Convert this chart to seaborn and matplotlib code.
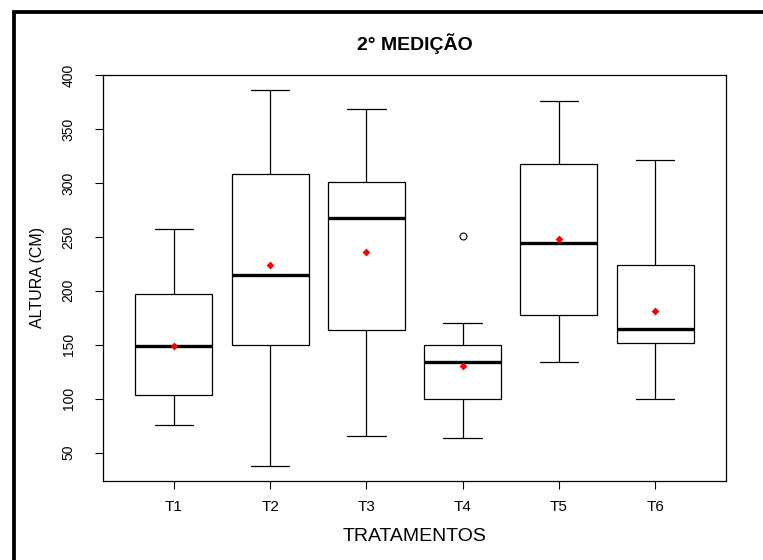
import matplotlib
matplotlib.use("Agg")
import matplotlib.pyplot as plt
from matplotlib.patches import Rectangle
import seaborn as sns
import pandas as pd
import numpy as np

# ---- data ----
tratamentos = ["T1", "T2", "T3", "T4", "T5", "T6"]
minimos  = [75.9, 37.6, 65.2, 63.3, 134.1, 100.1]
q1       = [103.2, 150.2, 163.2, 100.1, 177.5, 151.5]
medianas = [148.7, 214.3, 267.2, 134.1, 244.6, 164.5]
q3       = [197.0, 308.4, 301.3, 149.9, 317.3, 223.9]
maximos  = [257.3, 386.4, 369.0, 170.1, 375.8, 321.4]
outliers = {"T4": [250.5]}
medias   = [149.0, 223.6, 236.4, 130.4, 248.3, 181.2]
yticks   = [50, 100, 150, 200, 250, 300, 350, 400]

# build samples whose quartiles equal the five-number summaries
rows = []
for i, t in enumerate(tratamentos):
    extra = outliers.get(t, [])
    if extra:
        vals = [minimos[i], q1[i], q1[i], medianas[i], medianas[i],
                q3[i], q3[i], maximos[i]] + extra
    else:
        vals = [minimos[i], q1[i], medianas[i], q3[i], maximos[i]]
    rows += [(t, v) for v in vals]
df = pd.DataFrame(rows, columns=["trat", "altura"])
df_mean = pd.DataFrame({"trat": tratamentos, "media": medias})

sns.set_style("ticks")
plt.rcParams["font.family"] = ["Liberation Sans", "DejaVu Sans"]
plt.rcParams["text.color"] = "black"
plt.rcParams["axes.labelcolor"] = "black"
plt.rcParams["xtick.color"] = "black"
plt.rcParams["ytick.color"] = "black"

fig = plt.figure(figsize=(7.63, 5.60), dpi=100)
ax = fig.add_axes([102.7 / 763, 1 - 481 / 560, (726.3 - 102.7) / 763, (481 - 74.7) / 560])

sns.boxplot(data=df, x="trat", y="altura", order=tratamentos, ax=ax,
            color="white", linecolor="black", linewidth=0.9, width=0.8,
            saturation=1, whis=1.5,
            medianprops=dict(linewidth=2.4, color="black"),
            flierprops=dict(marker="o", markersize=5, markerfacecolor="none",
                            markeredgecolor="black", markeredgewidth=0.8))
sns.stripplot(data=df_mean, x="trat", y="media", order=tratamentos, ax=ax,
              jitter=False, marker="D", color="red", size=4, linewidth=0,
              zorder=5)

lo = min(minimos); hi = max(maximos); rng = hi - lo
ax.set_ylim(lo - 0.04 * rng, hi + 0.04 * rng)
ax.set_xlim(-0.74, 5.74)
ax.set_yticks(yticks)

for s in ax.spines.values():
    s.set_visible(True)
    s.set_color("black")
    s.set_linewidth(0.9)

ax.tick_params(axis="both", length=5.5, width=0.8, color="black",
               labelcolor="black", direction="out")
ax.tick_params(axis="x", labelsize=11, pad=8)
ax.tick_params(axis="y", labelsize=10, pad=14, labelrotation=90)
for lab in ax.get_yticklabels():
    lab.set_va("center")

ax.set_xlabel("TRATAMENTOS", fontsize=14, color="black")
ax.xaxis.label.set_va("center")
ax.xaxis.set_label_coords(0.5, -0.1378)
ax.set_ylabel("ALTURA (CM)", fontsize=11.5, color="black")
ax.yaxis.label.set_va("center")
ax.yaxis.set_label_coords(-0.1038, 0.5)
ax.set_title("2° MEDIÇÃO", fontsize=14, fontweight="bold", y=1.0755,
             va="center", pad=0, color="black")

fig.patches.append(Rectangle((13.5 / 763, -0.5), 2.0, 0.5 + 1 - 11.5 / 560,
                             transform=fig.transFigure, fill=False,
                             edgecolor="black", linewidth=2.7))

fig.savefig("out.png", dpi=100, facecolor="white")
